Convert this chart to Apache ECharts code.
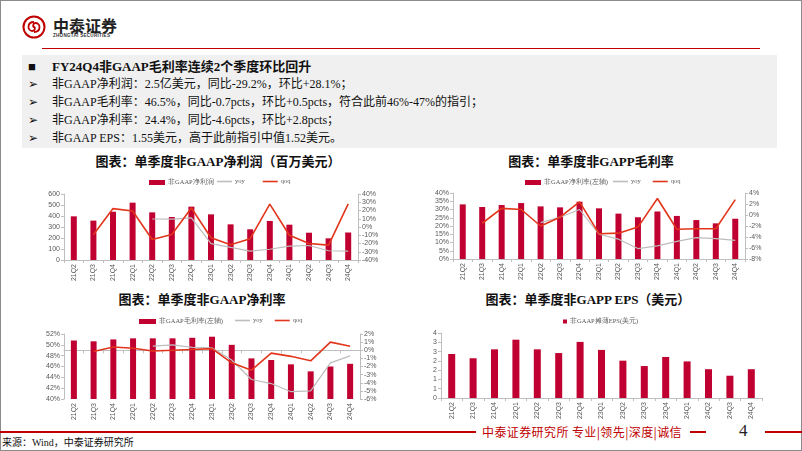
<!DOCTYPE html>
<html>
<head>
<meta charset="utf-8">
<script src="https://cdn.jsdelivr.net/npm/echarts@6/dist/echarts.min.js"></script>
<style>
  body { margin: 0; width: 802px; height: 451px; overflow: hidden; background: #fff;
         font-family: "Liberation Serif", "Noto Sans CJK SC", serif; }
  #frame { position: absolute; left: 0; top: 0; width: 800px; height: 449px; border: 1px solid #8c8c8c; }
  .abs { position: absolute; white-space: nowrap; }
  #logo-cn { left: 53px; top: 13px; font: bold 16px "Noto Sans CJK SC"; color: #222; }
  #logo-en { left: 53px; top: 33px; font: bold 4.6px "Liberation Sans"; color: #333; letter-spacing: 0.25px; }
  #topline { left: 42px; top: 48px; width: 718px; height: 1px; background: #C00000; }
  #box { left: 22px; top: 55px; width: 755px; height: 93px; background: #F0F0F0; }
  .ln { left: 28px; font-size: 12px; color: #111; }
  .ln b { font-weight: bold; }
  .ln .mk { display: inline-block; width: 24px; }
  .ttl { font: bold 13px "Liberation Serif", "Noto Sans CJK SC", serif; color: #111; transform: translateX(-50%); }
  #foot1 { left: 0; top: 431px; width: 476px; height: 2px; background: #C00000; }
  #foot2 { left: 690px; top: 431px; width: 16px; height: 2px; background: #C00000; }
  #foot3 { left: 765px; top: 431px; width: 37px; height: 2px; background: #C00000; }
  #foottxt { left: 482px; top: 423px; font: 12px "Noto Sans CJK SC"; color: #C00000; letter-spacing: 0.4px; }
  #pageno { left: 739px; top: 421px; font: 17px "Liberation Serif"; color: #222; }
  #src { left: 2px; top: 434px; font-size: 10px; color: #111; }
  #chart { position: absolute; left: 0; top: 0; width: 802px; height: 451px; }
</style>
</head>
<body>
<div id="frame"></div>
<svg class="abs" style="left:22px;top:15px" width="24" height="24" viewBox="0 0 24 24">
  <circle cx="12" cy="12" r="10.5" fill="none" stroke="#C00000" stroke-width="2"/>
  <path d="M12 7 C8 7 6.5 9.5 6.5 12 C6.5 14.5 8.5 16 10.5 16 C13 16 13.5 12 12 12 C10.5 12 11 8 13.5 8 C15.5 8 17.5 9.5 17.5 12 C17.5 14.5 16 17 12 17"
        fill="none" stroke="#C00000" stroke-width="1.8"/>
</svg>
<div class="abs" id="logo-cn">中泰证券</div>
<div class="abs" id="logo-en">ZHONGTAI SECURITIES</div>
<div class="abs" id="topline"></div>
<div class="abs" id="box"></div>
<div class="abs ln" style="top:56px;font-size:13px"><span class="mk">■</span><b>FY24Q4非GAAP毛利率连续2个季度环比回升</b></div>
<div class="abs ln" style="top:74px"><span class="mk">➢</span>非GAAP净利润：2.5亿美元，同比-29.2%，环比+28.1%；</div>
<div class="abs ln" style="top:92px"><span class="mk">➢</span>非GAAP毛利率：46.5%，同比-0.7pcts，环比+0.5pcts，符合此前46%-47%的指引；</div>
<div class="abs ln" style="top:110px"><span class="mk">➢</span>非GAAP净利率：24.4%，同比-4.6pcts，环比+2.8pcts；</div>
<div class="abs ln" style="top:128px"><span class="mk">➢</span>非GAAP EPS：1.55美元，高于此前指引中值1.52美元。</div>

<div class="abs ttl" style="left:218px;top:151px">图表：单季度非GAAP净利润（百万美元）</div>
<div class="abs ttl" style="left:591px;top:151px">图表：单季度非GAPP毛利率</div>
<div class="abs ttl" style="left:202px;top:289px">图表：单季度非GAAP净利率</div>
<div class="abs ttl" style="left:588px;top:289px">图表：单季度非GAPP EPS（美元）</div>

<div class="abs" id="foot1"></div>
<div class="abs" id="foottxt">中泰证券研究所 专业|领先|深度|诚信</div>
<div class="abs" id="foot2"></div>
<div class="abs" id="pageno">4</div>
<div class="abs" id="foot3"></div>
<div class="abs" id="src">来源：Wind，中泰证券研究所</div>

<div id="chart"></div>
<script>
// 季度
const quarters = ['21Q2', '21Q3', '21Q4', '22Q1', '22Q2', '22Q3', '22Q4', '23Q1',
                  '23Q2', '23Q3', '23Q4', '24Q1', '24Q2', '24Q3', '24Q4'];

// 非GAAP净利润（百万美元）及同比/环比（%）
const netProfit = [397, 358, 439, 521, 433, 391, 485, 415, 324, 279, 355, 321, 248, 197, 250];
const netProfitYoy = [null, null, null, null, 9.7, 9.6, 11.0, -20.2, -24.6, -29.2, -27.0, -23.2, -22.4, -28.8, -29.2];
const netProfitQoq = [null, -9.3, 22.3, 19.4, -15.2, -9.2, 23.0, -13.0, -21.4, -14.2, 27.8, -10.0, -20.0, -22.0, 28.1];

// 非GAAP净利率（%）及同比/环比（pcts）
const netMargin = [33.1, 31.5, 32.7, 33.9, 31.9, 31.3, 34.7, 30.7, 27.5, 25.3, 28.8, 26.1, 23.6, 21.6, 24.4];
const netMarginYoy = [null, null, null, null, -1.4, -0.4, 1.0, -3.5, -4.4, -6.1, -5.6, -4.8, -4.1, -4.3, -4.6];
const netMarginQoq = [null, -1.5, 1.2, 1.0, -2.0, -0.4, 2.4, -3.4, -3.3, -2.2, 3.0, -2.6, -2.5, -2.5, 2.8];

// 非GAAP毛利率（%）及同比/环比（pcts）
const grossMargin = [50.8, 50.65, 51.0, 51.2, 51.2, 51.2, 51.3, 51.5, 50.0, 47.5, 47.2, 46.4, 45.1, 46.0, 46.5];
const grossMarginYoy = [null, null, null, null, 0.5, 0.65, 0.35, 0.3, -1.2, -3.6, -4.1, -5.1, -5.0, -1.55, -0.7];
const grossMarginQoq = [null, -0.15, 0.4, 0.25, -0.1, 0.0, 0.1, 0.2, -1.55, -2.45, -0.35, -0.75, -1.3, 1.0, 0.5];

// 非GAAP摊薄EPS（美元）
const eps = [2.37, 2.14, 2.62, 3.14, 2.62, 2.42, 3.02, 2.59, 2.01, 1.72, 2.21, 1.97, 1.55, 1.20, 1.55];

const RED = '#C00030';
const QOQ = '#E2361C';
const YOY = '#BDBDBD';
const AX = '#BFBFBF';
const TXT = '#595959';
const SANS = 'Liberation Sans';

const chart = echarts.init(document.getElementById('chart'));

function xAxis(gi) {
  return {
    type: 'category', gridIndex: gi, data: quarters,
    axisLine: { lineStyle: { color: AX } },
    axisTick: { show: true, length: 3, lineStyle: { color: AX } },
    axisLabel: { rotate: 90, fontSize: 7, color: TXT, margin: 4, fontFamily: SANS }
  };
}

function yAxis(gi, min, max, interval, fmt, pos) {
  return {
    type: 'value', gridIndex: gi, min: min, max: max, interval: interval, position: pos,
    axisLine: { show: true, lineStyle: { color: AX } },
    axisTick: { show: true, length: 3, lineStyle: { color: AX } },
    splitLine: { show: false },
    axisLabel: { fontSize: 7, color: TXT, margin: 4, fontFamily: SANS, formatter: fmt }
  };
}

const pct = '{value}%';

function bar(name, data, x, y, w) {
  return { name: name, type: 'bar', xAxisIndex: x, yAxisIndex: y, data: data,
           barWidth: w, itemStyle: { color: RED }, silent: true };
}
function line(name, data, x, y, color, width) {
  return { name: name, type: 'line', xAxisIndex: x, yAxisIndex: y, data: data,
           symbol: 'none', lineStyle: { color: color, width: width }, itemStyle: { color: color }, silent: true };
}

// 柱状图图例（矩形）
function barLegend(left, top, name, w, h) {
  return {
    left: left, top: top, itemWidth: w, itemHeight: h, icon: 'rect',
    textStyle: { fontSize: 6.5, color: TXT, fontFamily: 'Liberation Serif', padding: [0, 0, 0, -2] },
    data: [name]
  };
}
// 折线图例（细线）
function lineLegend(left, top, gap) {
  return {
    left: left, top: top, itemWidth: 15, itemHeight: 1.6, itemGap: gap, icon: 'rect',
    textStyle: { fontSize: 6.5, color: TXT, fontFamily: 'Liberation Serif', padding: [0, 0, 0, -2] },
    data: ['yoy', 'qoq']
  };
}

const option = {
  animation: false,
  backgroundColor: 'transparent',
  grid: [
    { left: 64, top: 194, width: 294, height: 66 },
    { left: 453, top: 193, width: 292, height: 66 },
    { left: 64, top: 334, width: 296, height: 65 },
    { left: 441, top: 333, width: 321, height: 65 }
  ],
  legend: [
    barLegend(144, 174, '非GAAP净利润', 16, 5),
    lineLegend(212, 173, 18),
    barLegend(520, 174, '非GAAP净利率(左轴)', 16, 5),
    lineLegend(608, 173, 12),
    barLegend(134, 313, '非GAAP毛利率(左轴)', 17, 5),
    lineLegend(230, 312, 12),
    barLegend(558, 313, '非GAAP摊薄EPS(美元)', 4, 4)
  ],
  xAxis: [xAxis(0), xAxis(1), xAxis(2), xAxis(3)],
  yAxis: [
    yAxis(0, 0, 600, 100, null, 'left'),
    yAxis(0, -40, 40, 10, pct, 'right'),
    yAxis(1, 0, 40, 5, pct, 'left'),
    yAxis(1, -8, 4, 2, pct, 'right'),
    yAxis(2, 40, 52, 2, pct, 'left'),
    yAxis(2, -6, 2, 1, pct, 'right'),
    yAxis(3, 0, 3.5, 0.5, function (v) { return String(Math.round(v)); }, 'left')
  ],
  series: [
    bar('非GAAP净利润', netProfit, 0, 0, 6),
    line('yoy', netProfitYoy, 0, 1, YOY, 1.2),
    line('qoq', netProfitQoq, 0, 1, QOQ, 1.6),

    bar('非GAAP净利率(左轴)', netMargin, 1, 2, 6),
    line('yoy', netMarginYoy, 1, 3, YOY, 1.2),
    line('qoq', netMarginQoq, 1, 3, QOQ, 1.6),

    bar('非GAAP毛利率(左轴)', grossMargin, 2, 4, 6),
    line('yoy', grossMarginYoy, 2, 5, YOY, 1.2),
    line('qoq', grossMarginQoq, 2, 5, QOQ, 1.6),

    bar('非GAAP摊薄EPS(美元)', eps, 3, 6, 7)
  ]
};

chart.setOption(option);
</script>
</body>
</html>
